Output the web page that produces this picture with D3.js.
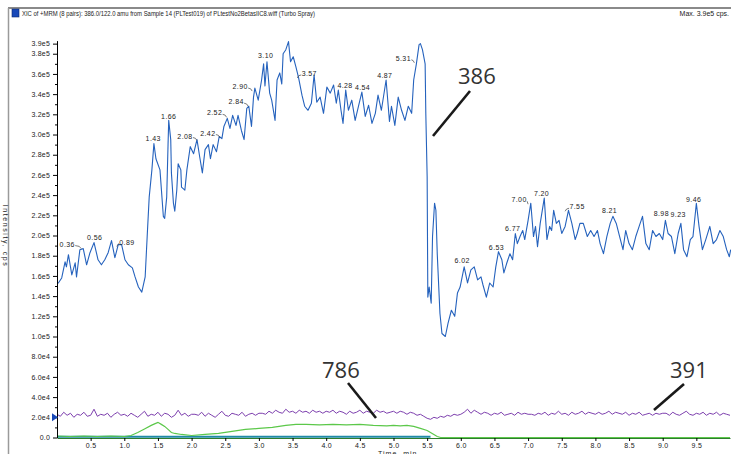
<!DOCTYPE html>
<html>
<head>
<meta charset="utf-8">
<script src="https://cdn.jsdelivr.net/npm/d3@7"></script>
<style>
body { margin: 0; background: #fff; }
svg { display: block; }
.small { font-family: "Liberation Sans", Arial, sans-serif; font-size: 7px; fill: #222; }
.note { font-family: "Open Sans", "Noto Sans", sans-serif; font-size: 22px; fill: #333; }
</style>
</head>
<body>
<svg width="731" height="454"></svg>
<script>
var svg = d3.select("svg"),
    width = +svg.attr("width"),
    height = +svg.attr("height");

// ---- tick values ----
var xTickValues = [0.5, 1.0, 1.5, 2.0, 2.5, 3.0, 3.5, 4.0, 4.5, 5.0, 5.5, 6.0, 6.5, 7.0, 7.5, 8.0, 8.5, 9.0, 9.5];
var yTickValues = [0, 20000, 40000, 60000, 80000, 100000, 120000, 140000, 160000, 180000, 200000,
                   220000, 240000, 260000, 280000, 300000, 320000, 340000, 360000, 380000, 390000];
var yMinorValues = [10000, 30000, 50000, 70000, 90000, 110000, 130000, 150000, 170000, 190000, 210000,
                    230000, 250000, 270000, 290000, 310000, 330000, 350000, 370000];

// ---- 386 trace (time in min, intensity in 1e5 cps) ----
var blueTime = [0.00,0.02,0.07,0.12,0.14,0.17,0.22,0.27,0.29,0.34,0.39,0.44,0.49,0.55,0.61,0.66,0.71,0.76,0.81,0.86,
  0.91,0.96,1.01,1.06,1.12,1.16,1.21,1.26,1.31,1.34,1.37,1.41,1.44,1.47,1.53,1.58,1.60,1.63,1.65,1.66,
  1.69,1.70,1.73,1.75,1.78,1.80,1.84,1.85,1.90,1.93,1.98,2.03,2.08,2.12,2.16,2.20,2.25,2.28,2.32,2.37,
  2.41,2.45,2.48,2.53,2.57,2.61,2.66,2.69,2.74,2.78,2.82,2.85,2.89,2.92,2.94,2.99,3.04,3.07,3.09,3.12,
  3.16,3.19,3.24,3.27,3.31,3.34,3.36,3.40,3.44,3.47,3.51,3.55,3.59,3.64,3.68,3.73,3.78,3.82,3.86,3.91,
  3.96,4.01,4.06,4.11,4.15,4.18,4.22,4.25,4.29,4.33,4.38,4.43,4.48,4.53,4.58,4.63,4.68,4.73,4.77,4.82,
  4.89,4.94,4.97,5.02,5.07,5.12,5.17,5.22,5.27,5.30,5.34,5.38,5.40,5.43,5.47,5.48,5.50,5.51,5.53,5.56,
  5.58,5.61,5.63,5.65,5.69,5.72,5.77,5.81,5.86,5.91,5.95,5.99,6.05,6.10,6.15,6.20,6.25,6.30,6.33,6.38,
  6.43,6.48,6.52,6.56,6.61,6.64,6.68,6.73,6.77,6.81,6.84,6.88,6.92,6.95,7.00,7.04,7.08,7.11,7.14,7.18,
  7.24,7.28,7.32,7.35,7.38,7.42,7.46,7.50,7.55,7.60,7.65,7.70,7.73,7.77,7.82,7.88,7.93,7.98,8.03,8.07,
  8.12,8.17,8.22,8.26,8.31,8.36,8.41,8.45,8.50,8.55,8.60,8.65,8.70,8.75,8.80,8.85,8.90,8.95,9.00,9.04,
  9.08,9.13,9.18,9.23,9.27,9.31,9.36,9.41,9.45,9.50,9.54,9.59,9.64,9.70,9.75,9.80,9.85,9.90,9.95,9.99,10.01];
var blueInt = [1.53,1.53,1.58,1.74,1.69,1.81,1.61,1.73,1.59,1.86,1.87,1.71,1.83,1.93,1.76,1.71,1.76,1.83,1.95,1.78,
  1.91,1.91,1.76,1.71,1.68,1.59,1.49,1.44,1.59,1.99,2.38,2.65,2.91,2.76,2.65,2.19,2.17,2.38,2.90,3.14,
  2.95,2.62,2.32,2.24,2.45,2.71,2.65,2.48,2.45,2.65,2.88,2.81,2.95,2.78,2.62,2.85,2.90,2.76,2.90,2.83,
  2.98,2.96,3.08,3.16,3.06,3.19,3.09,3.19,3.04,2.95,3.26,3.28,3.08,3.37,3.46,3.34,3.54,3.70,3.48,3.72,
  3.41,3.34,3.14,3.54,3.61,3.50,3.80,3.84,3.92,3.72,3.77,3.67,3.56,3.39,3.28,3.24,3.31,3.59,3.32,3.37,
  3.21,3.47,3.41,3.49,3.31,3.44,3.24,3.11,3.44,3.24,3.34,3.14,3.28,3.42,3.18,3.29,3.11,3.21,3.39,3.24,
  3.54,3.13,3.28,3.09,3.37,3.24,3.14,3.28,3.21,3.54,3.70,3.89,3.90,3.84,3.70,3.21,2.58,1.39,1.49,1.33,
  1.99,2.32,2.25,1.82,1.23,1.03,1.00,1.13,1.26,1.20,1.43,1.49,1.69,1.53,1.66,1.69,1.56,1.59,1.51,1.39,
  1.53,1.49,1.69,1.84,1.76,1.63,1.72,1.82,1.76,2.02,1.92,1.99,2.05,1.96,2.15,2.32,1.99,2.09,1.89,2.12,
  2.37,1.96,2.09,2.05,2.25,2.12,2.15,2.02,2.09,2.25,2.12,1.96,2.02,2.12,2.12,1.99,2.05,1.99,2.05,1.92,
  1.82,1.99,2.12,2.19,2.12,1.99,1.86,2.05,1.92,1.86,1.99,2.09,2.19,1.92,1.86,2.05,1.99,2.02,1.96,2.15,
  2.02,1.99,1.82,2.02,2.12,1.86,1.79,1.96,1.99,2.32,2.09,1.86,1.96,2.09,1.92,1.96,2.05,1.99,1.86,1.79,1.86];

// ---- 391 trace (one scan every 0.05 min, intensity in 1e4 cps) ----
var purpleStep = 0.05;
var purpleInt = [2.3,2.1,2.5,2.2,2.4,2.0,2.3,2.2,2.5,2.1,2.2,2.8,2.1,2.3,2.2,2.4,2.0,2.3,2.5,2.2,2.3,
  2.1,2.4,2.2,2.0,2.3,2.6,2.1,2.3,2.2,2.5,2.1,2.4,2.3,2.0,2.2,2.7,2.2,2.4,2.1,2.3,
  2.3,2.2,2.5,2.1,2.4,2.2,2.0,2.3,2.6,2.2,2.1,2.4,2.3,2.2,2.5,2.1,2.3,2.4,2.2,2.4,
  2.4,2.3,2.6,2.4,2.7,2.5,2.4,2.8,2.5,2.6,2.4,2.7,2.5,2.6,2.4,2.7,2.5,2.6,2.4,2.6,
  2.5,2.7,2.4,2.6,2.5,2.3,2.6,2.4,2.5,2.7,2.4,2.6,2.5,2.4,2.7,2.5,2.6,2.4,2.5,2.6,
  2.4,2.6,2.5,2.3,2.5,2.4,2.2,2.3,2.1,1.9,1.8,2.0,1.9,2.1,2.0,2.2,2.1,2.3,2.2,2.3,
  2.5,2.8,2.4,2.7,2.5,2.3,2.5,2.4,2.2,2.4,2.3,2.5,2.2,2.3,2.4,2.2,2.5,2.3,2.4,2.3,
  2.3,2.2,2.4,2.3,2.5,2.2,2.4,2.3,2.6,2.3,2.4,2.2,2.5,2.3,2.4,2.6,2.3,2.5,2.4,2.3,
  2.5,2.3,2.4,2.6,2.3,2.5,2.4,2.3,2.5,2.2,2.4,2.3,2.5,2.2,2.3,2.4,2.2,2.4,2.3,2.4,
  2.4,2.2,2.5,2.3,2.2,2.4,2.6,2.3,2.2,2.4,2.3,2.5,2.2,2.4,2.3,2.5,2.2,2.4,2.3,2.2];

// ---- 786 trace (intensity in 1e4 cps) ----
var greenTime = [0.0,0.2,0.4,0.6,0.8,1.0,1.1,1.2,1.3,1.4,1.45,1.5,1.55,1.6,1.65,1.7,1.75,1.85,2.0,2.2,
  2.4,2.6,2.8,3.0,3.2,3.4,3.55,3.7,3.9,4.1,4.3,4.5,4.7,4.9,5.0,5.1,5.2,5.3,5.4,5.5,5.6,5.65,5.7,10.0];
var greenInt = [0.15,0.1,0.15,0.1,0.15,0.1,0.2,0.5,0.85,1.2,1.35,1.5,1.3,1.1,0.8,0.5,0.4,0.3,0.2,0.3,
  0.4,0.6,0.8,0.9,1.0,1.2,1.3,1.3,1.25,1.3,1.25,1.3,1.2,1.15,1.2,1.15,1.2,1.1,0.9,0.7,0.3,0.1,0.0,0.0];

// ---- low trace along the baseline (intensity in 1e4 cps) ----
var tealTime = [0.0, 1.0, 2.0, 3.0, 4.0, 5.0, 5.55];
var tealInt = [0.08, 0.08, 0.08, 0.08, 0.08, 0.08, 0.08];

// ---- peak labels (retention time, intensity in 1e5 cps at the label) ----
var peakLabels = ["0.36","0.56","0.89","1.43","1.66","2.08","2.42","2.52","2.84","2.90","3.10","3.57","4.28",
  "4.54","4.87","5.31","6.02","6.53","6.77","7.00","7.20","7.55","8.21","8.98","9.23","9.46"];
var peakLabelInt = [1.89,1.96,1.91,2.94,3.15,2.96,2.99,3.19,3.30,3.45,3.76,3.58,3.46,
  3.44,3.56,3.73,1.73,1.86,2.04,2.33,2.39,2.26,2.22,2.19,2.18,2.33];

// ---- call-outs ----
var calloutText = ["386", "786", "391"];

// scales
var x = d3.scaleLinear().domain([0, 10]).range([57, 730]);
var y = d3.scaleLinear().domain([0, 393000]).range([437.5, 40.6]);

function fmtY(v) {
    if (v === 0) return "0.0";
    return d3.format(".1e")(v).replace("e+", "e");
}

// frame / header
svg.append("line").attr("x1", 8).attr("x2", width).attr("y1", 8).attr("y2", 8)
    .attr("stroke", "#8a8a8a").attr("stroke-width", 2);
svg.append("line").attr("x1", 8.5).attr("x2", 8.5).attr("y1", 8).attr("y2", height)
    .attr("stroke", "#9a9a9a").attr("stroke-width", 1.5);
svg.append("rect").attr("x", 12).attr("y", 9).attr("width", 7).attr("height", 8)
    .attr("fill", "#1848b8").attr("stroke", "#0a2a70").attr("stroke-width", 0.6);
svg.append("text").attr("class", "small").attr("x", 22).attr("y", 16)
    .attr("textLength", 293).attr("lengthAdjust", "spacingAndGlyphs")
    .text("XIC of +MRM (8 pairs): 386.0/122.0 amu from Sample 14 (PLTest019) of PLtestNo2BetasIIC8.wiff (Turbo Spray)");
svg.append("text").attr("class", "small").attr("x", 729).attr("y", 16)
    .attr("text-anchor", "end").text("Max. 3.9e5 cps.");

// line generator
var line = d3.line().x(function(d) { return x(d[0]); }).y(function(d) { return y(d[1]); });

var purpleData = purpleInt.map(function(v, i) { return [i * purpleStep, v * 1e4]; });
var greenData = greenTime.map(function(t, i) { return [t, greenInt[i] * 1e4]; });
var tealData = tealTime.map(function(t, i) { return [t, tealInt[i] * 1e4]; });
var blueData = blueTime.map(function(t, i) { return [t, blueInt[i] * 1e5]; });

var traces = svg.append("g").attr("class", "traces");
traces.append("path").datum(purpleData).attr("d", line)
    .attr("fill", "none").attr("stroke", "#7d3fae").attr("stroke-width", 1);
traces.append("path").datum(tealData).attr("d", line)
    .attr("fill", "none").attr("stroke", "#1f8aa6").attr("stroke-width", 2);
traces.append("path").datum(greenData).attr("d", line)
    .attr("fill", "none").attr("stroke", "#5cc84a").attr("stroke-width", 1.2);
traces.append("path").datum(blueData).attr("d", line)
    .attr("fill", "none").attr("stroke", "#2562bd").attr("stroke-width", 1.1)
    .attr("stroke-linejoin", "round");

// axes
var gy = svg.append("g").attr("transform", "translate(57,0)")
    .call(d3.axisLeft(y).tickValues(yTickValues).tickFormat(fmtY).tickSize(4).tickSizeOuter(0).tickPadding(3));
svg.append("g").attr("transform", "translate(57,0)")
    .call(d3.axisLeft(y).tickValues(yMinorValues).tickFormat("").tickSize(2))
    .select(".domain").remove();
gy.selectAll("text").attr("class", "small").attr("font-size", null).attr("font-family", null)
    .attr("letter-spacing", 0.2);

var gx = svg.append("g").attr("transform", "translate(0,438)")
    .call(d3.axisBottom(x).tickValues(xTickValues).tickFormat(d3.format(".1f")).tickSize(3).tickSizeOuter(0).tickPadding(2));
gx.select(".domain").attr("stroke", "#2e7d2e");
gx.selectAll("text").attr("class", "small").attr("font-size", null).attr("font-family", null)
    .attr("letter-spacing", 0.3);

svg.append("text").attr("class", "small").attr("x", 378).attr("y", 456)
    .attr("font-size", "6px").attr("letter-spacing", 1).text("Time, min");

svg.append("text").attr("class", "small")
    .attr("transform", "translate(3,236) rotate(90)")
    .attr("text-anchor", "middle").attr("letter-spacing", 1.6)
    .text("Intensity, cps");

// marker at the 2.0e4 level
var my = y(20000);
svg.append("path").attr("d", "M52," + (my - 4) + "L58," + my + "L52," + (my + 4) + "Z")
    .attr("fill", "#1848b8");

// peak labels
var labelShift = { "0.36": -14, "0.89": 10, "2.08": -12, "2.42": -12, "2.52": -12, "2.84": -12,
                   "2.90": -12, "3.57": 12, "5.31": -11, "7.00": -9, "7.55": 12 };
var pl = svg.append("g").attr("class", "peaks");
peakLabels.forEach(function(lab, i) {
    var px = x(+lab), by = y(peakLabelInt[i] * 1e5);
    var dx = labelShift[lab] || 0;
    pl.append("text").attr("class", "small").attr("x", px + dx).attr("y", by)
        .attr("text-anchor", "middle").attr("letter-spacing", 0.4).text(lab);
    if (dx < 0) {
        pl.append("path").attr("d", "M" + (px + dx + 8) + "," + (by - 1) + "Q" + (px - 1) + "," + (by - 1) + " " + px + "," + (by + 2))
            .attr("fill", "none").attr("stroke", "#444").attr("stroke-width", 0.7);
    } else if (dx > 0) {
        pl.append("path").attr("d", "M" + px + "," + (by + 2) + "Q" + (px + 1) + "," + (by - 1) + " " + (px + dx - 8) + "," + (by - 1))
            .attr("fill", "none").attr("stroke", "#444").attr("stroke-width", 0.7);
    }
});

// call-outs
var callouts = svg.append("g");
var calloutPos = [[458, 84, 433, 136, 470, 91], [322, 378, 348, 383, 376, 418], [670, 378, 684, 384, 654, 410]];
calloutText.forEach(function(t, i) {
    var p = calloutPos[i];
    callouts.append("text").attr("class", "note").attr("x", p[0]).attr("y", p[1]).text(t);
    callouts.append("line").attr("x1", p[2]).attr("y1", p[3]).attr("x2", p[4]).attr("y2", p[5])
        .attr("stroke", "#1a1a1a").attr("stroke-width", 2.6);
});
</script>
</body>
</html>
